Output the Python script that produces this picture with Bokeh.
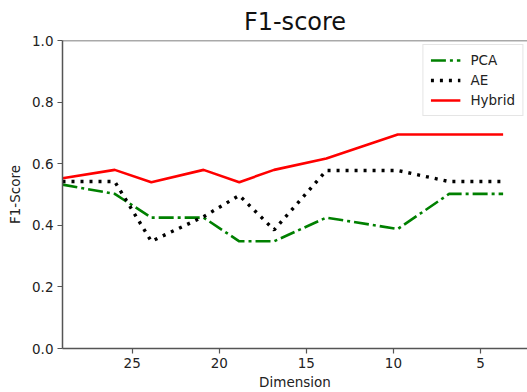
from bokeh.plotting import figure
from bokeh.models import Range1d, Span, Legend, LegendItem, FixedTicker, CustomJSTickFormatter
from bokeh.embed import file_html
from bokeh.resources import INLINE

# Reduced dimension (x axis runs from high to low)
dimension = [29, 26, 23.9, 20.9, 18.85, 16.85, 13.85, 9.75, 6.8, 3.7]

# F1-scores per method
pca = [0.532, 0.502, 0.425, 0.425, 0.348, 0.348, 0.425, 0.388, 0.502, 0.502]
ae = [0.542, 0.542, 0.348, 0.428, 0.497, 0.385, 0.578, 0.578, 0.542, 0.542]
hybrid = [0.553, 0.58, 0.54, 0.58, 0.54, 0.58, 0.617, 0.695, 0.695, 0.695]

x_ticks = [25, 20, 15, 10, 5]
y_ticks = [0.0, 0.2, 0.4, 0.6, 0.8, 1.0]

FONT = "DejaVu Sans"
AXIS_COLOR = "#555555"
TEXT_COLOR = "#222222"

p = figure(
    width=527, height=392,
    output_backend="svg", toolbar_location=None,
    x_range=Range1d(29, 2.3), y_range=Range1d(0, 1),
    min_border_left=62, min_border_right=0,
    min_border_top=40, min_border_bottom=44,
    title="F1-score",
)
p.background_fill_color = "white"
p.border_fill_color = "white"
p.outline_line_color = None
p.grid.visible = False

p.title.text_font = FONT
p.title.text_font_size = "24px"
p.title.text_font_style = "normal"
p.title.text_color = "#111111"
p.title.align = "center"
p.title.offset = 5

# top frame line
p.add_layout(Span(location=1.0, dimension="width", line_color=AXIS_COLOR, line_width=1.5))

for ax in (p.xaxis[0], p.yaxis[0]):
    ax.axis_line_color = AXIS_COLOR
    ax.axis_line_width = 1.5
    ax.major_tick_line_color = AXIS_COLOR
    ax.major_tick_line_width = 1.2
    ax.major_tick_out = 5
    ax.major_tick_in = 0
    ax.minor_tick_line_color = None
    ax.major_label_text_font = FONT
    ax.major_label_text_font_size = "13.5px"
    ax.major_label_text_color = TEXT_COLOR
    ax.axis_label_text_font = FONT
    ax.axis_label_text_font_size = "13.5px"
    ax.axis_label_text_font_style = "normal"
    ax.axis_label_text_color = TEXT_COLOR

p.xaxis.ticker = FixedTicker(ticks=x_ticks)
p.yaxis.ticker = FixedTicker(ticks=y_ticks)
p.yaxis.formatter = CustomJSTickFormatter(code="return tick.toFixed(1);")
p.xaxis.axis_label = "Dimension"
p.yaxis.axis_label = "F1-Score"
p.xaxis.axis_label_standoff = 3
p.yaxis.axis_label_standoff = 6
p.xaxis.major_label_standoff = 4
p.yaxis.major_label_standoff = 4

r_pca = p.line(dimension, pca, line_color="#008000", line_width=2.6,
               line_dash="15 4 3 4")
r_ae = p.line(dimension, ae, line_color="black", line_width=3.4,
              line_dash="3 6")
r_hyb = p.line(dimension, hybrid, line_color="#ff0000", line_width=2.6)

legend = Legend(items=[
    LegendItem(label="PCA", renderers=[r_pca]),
    LegendItem(label="AE", renderers=[r_ae]),
    LegendItem(label="Hybrid", renderers=[r_hyb]),
], location="top_right")
legend.label_text_font = FONT
legend.label_text_font_size = "13.5px"
legend.label_text_color = TEXT_COLOR
legend.glyph_width = 30
legend.glyph_height = 14
legend.label_standoff = 10
legend.spacing = 4
legend.padding = 7
legend.margin = 4
legend.border_line_color = "#cccccc"
legend.border_line_width = 1
legend.background_fill_alpha = 0.9
p.add_layout(legend)

open("out.html", "w").write(file_html(p, INLINE))
